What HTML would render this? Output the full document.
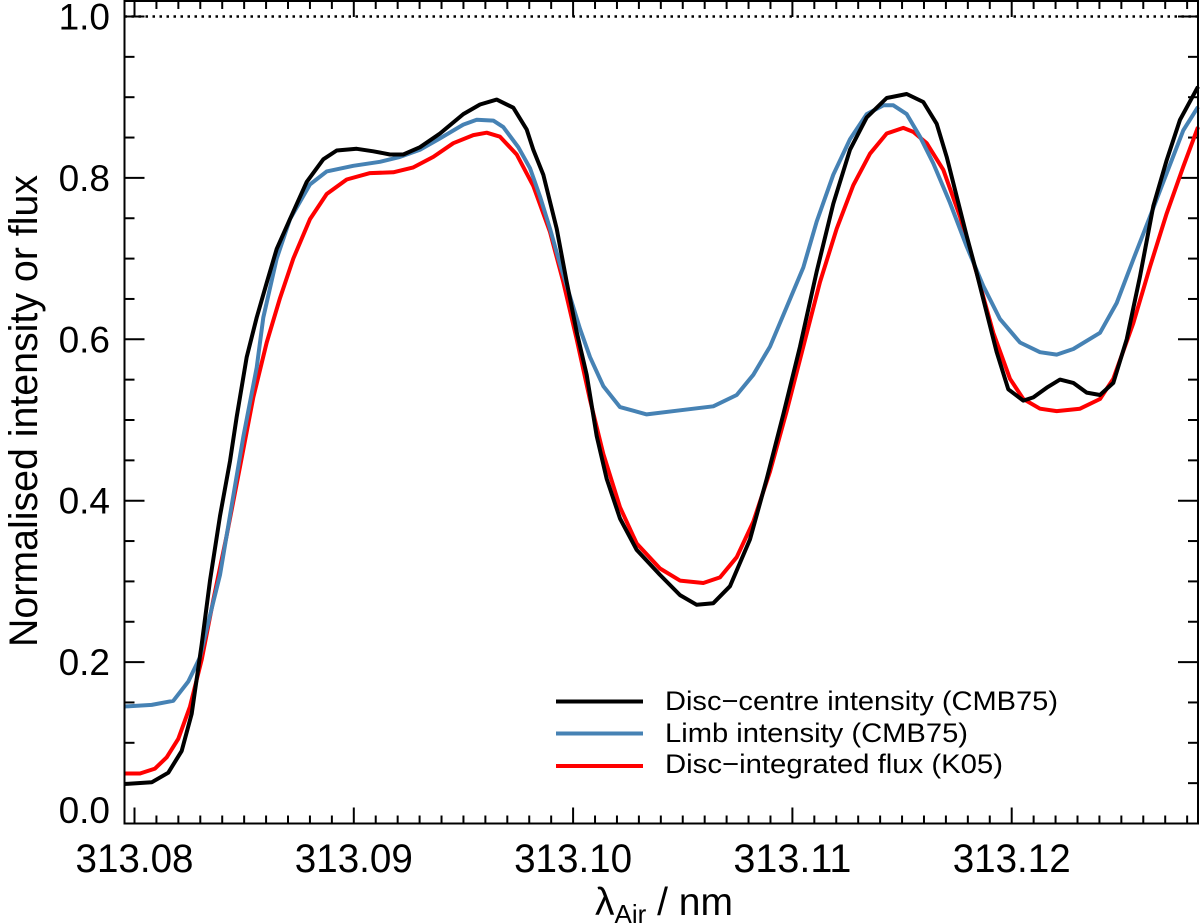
<!DOCTYPE html>
<html><head><meta charset="utf-8"><title>Normalised intensity chart</title>
<style>
html,body{margin:0;padding:0;background:#fff;}
svg{display:block;font-family:"Liberation Sans",Arial,sans-serif;}
</style></head>
<body>
<svg id="chart" width="1200" height="924" viewBox="0 0 1200 924" xmlns="http://www.w3.org/2000/svg">
<g id="ticks"></g>
<g id="series"></g>
<rect x="124.5" y="1" width="1073.5" height="822.5" fill="none" stroke="#000" stroke-width="2"/>
<g id="labels"></g>
<text transform="translate(37,411) rotate(-90)" text-anchor="middle" font-size="40" textLength="472" lengthAdjust="spacingAndGlyphs">Normalised intensity or flux</text>
<text x="595" y="915" font-size="39">λ<tspan font-size="26" dy="8">Air</tspan><tspan dy="-8"> / nm</tspan></text>
<g>
  <line x1="556" y1="701.5" x2="643" y2="701.5" stroke="#000" stroke-width="4"/>
  <text x="665" y="710" font-size="27" textLength="393" lengthAdjust="spacingAndGlyphs">Disc−centre intensity (CMB75)</text>
  <line x1="556" y1="733.5" x2="643" y2="733.5" stroke="#4682B4" stroke-width="4"/>
  <text x="665" y="742" font-size="27" textLength="303" lengthAdjust="spacingAndGlyphs">Limb intensity (CMB75)</text>
  <line x1="556" y1="766" x2="643" y2="766" stroke="#FF0000" stroke-width="4"/>
  <text x="665" y="773" font-size="27" textLength="338" lengthAdjust="spacingAndGlyphs">Disc−integrated flux (K05)</text>
</g>
</svg>
<script>
// wavelength offsets in pm relative to 313.08 nm
const WL0 = 313.08;
const dwlBlack = [-0.479,0.784,1.541,2.152,2.608,3.064,3.443,3.899,4.355,4.660,5.116,5.572,6.028,6.484,7.091,7.852,8.609,9.220,10.132,10.889,11.651,12.257,13.019,13.930,14.993,15.755,16.516,17.273,17.884,18.185,18.641,19.252,19.708,20.164,20.620,21.076,21.532,22.139,22.900,23.963,24.875,25.636,26.393,27.155,28.067,28.828,29.585,30.347,31.108,31.865,32.627,33.388,34.300,35.212,35.969,36.580,37.036,37.492,37.948,38.404,38.860,39.316,39.845,40.529,40.985,41.596,42.203,42.809,43.420,44.027,44.633,45.244,45.850,46.456,47.067,47.674,48.508];
const valBlack = [0.049,0.051,0.063,0.090,0.136,0.222,0.301,0.381,0.449,0.504,0.578,0.627,0.670,0.712,0.749,0.795,0.823,0.834,0.836,0.833,0.829,0.829,0.838,0.855,0.879,0.891,0.897,0.887,0.860,0.835,0.804,0.737,0.671,0.609,0.556,0.480,0.427,0.378,0.339,0.308,0.283,0.271,0.273,0.294,0.352,0.427,0.507,0.591,0.684,0.768,0.835,0.875,0.899,0.904,0.894,0.867,0.826,0.777,0.728,0.682,0.633,0.584,0.538,0.524,0.528,0.540,0.550,0.546,0.534,0.531,0.546,0.600,0.678,0.765,0.822,0.872,0.913];
const dwlBlue = [-0.479,0.784,1.769,2.453,2.987,3.443,3.899,4.505,4.961,5.572,5.873,6.484,7.091,8.003,8.764,9.977,11.195,12.107,13.019,13.930,14.993,15.604,16.361,16.817,17.501,18.035,18.491,18.947,19.403,19.859,20.315,20.771,21.377,22.139,23.356,24.875,26.393,27.460,28.217,28.979,29.740,30.497,31.108,31.865,32.627,33.388,34.145,34.601,35.212,35.819,36.425,37.187,37.948,38.705,39.467,40.379,41.291,42.052,42.809,44.027,44.788,45.545,46.306,47.067,47.824,48.508];
const valBlue = [0.145,0.147,0.152,0.176,0.206,0.258,0.308,0.406,0.479,0.565,0.627,0.700,0.749,0.792,0.808,0.815,0.820,0.826,0.835,0.849,0.866,0.872,0.871,0.863,0.838,0.812,0.777,0.737,0.693,0.653,0.613,0.578,0.542,0.516,0.507,0.512,0.517,0.531,0.556,0.591,0.640,0.689,0.746,0.804,0.848,0.879,0.890,0.890,0.879,0.851,0.818,0.769,0.715,0.666,0.625,0.596,0.584,0.581,0.588,0.608,0.645,0.699,0.752,0.806,0.859,0.888];
const dwlRed = [-0.479,0.251,0.935,1.468,1.997,2.531,3.064,3.593,4.204,4.811,5.417,6.028,6.635,7.241,8.003,8.764,9.676,10.739,11.801,12.713,13.625,14.537,15.449,16.060,16.667,17.428,18.185,18.947,19.553,20.164,20.771,21.377,22.139,22.900,23.963,24.875,25.937,26.699,27.460,28.217,28.979,29.740,30.497,31.259,32.020,32.777,33.539,34.300,35.057,35.513,36.124,36.881,37.643,38.404,39.161,39.923,40.529,41.291,42.052,43.115,44.027,44.633,45.545,46.306,47.067,47.824,48.508];
const valRed = [0.062,0.062,0.068,0.082,0.105,0.145,0.203,0.277,0.357,0.442,0.528,0.596,0.651,0.700,0.749,0.780,0.798,0.806,0.807,0.813,0.826,0.843,0.853,0.856,0.851,0.829,0.790,0.733,0.671,0.600,0.525,0.458,0.392,0.347,0.316,0.301,0.298,0.305,0.330,0.374,0.436,0.511,0.591,0.671,0.737,0.791,0.830,0.855,0.862,0.857,0.843,0.810,0.752,0.682,0.608,0.551,0.526,0.514,0.511,0.514,0.526,0.551,0.620,0.690,0.756,0.814,0.863];
const xTickLabels = ["313.08","313.09","313.10","313.11","313.12"];
const yTickLabels = ["0.0","0.2","0.4","0.6","0.8","1.0"];

const NS = "http://www.w3.org/2000/svg";
const X0 = 134.5, XS = 21930, LEFT = 124.5, RIGHT = 1198, TOP = 1, BOTTOM = 823.5;
function xScale(wl){ return X0 + (wl - WL0) * XS; }
function yScale(v){ return 823.5 - 807 * v; }
function mk(tag, attrs, parent){
  const e = document.createElementNS(NS, tag);
  for (const k in attrs) e.setAttribute(k, attrs[k]);
  parent.appendChild(e); return e;
}
const ticks = document.getElementById('ticks');
const labels = document.getElementById('labels');
const series = document.getElementById('series');

const ref = mk('line', {x1:LEFT, x2:RIGHT, y1:yScale(1), y2:yScale(1), stroke:'#000','stroke-width':2.5,'stroke-dasharray':'2.5 4.5'}, series);



for (let i = -1; i <= 49; i++) {
  const x = xScale(WL0 + i / 1000);
  if (x < LEFT + 1 || x > RIGHT - 1) continue;
  const len = (i % 10 === 0) ? 16 : 8;
  const tb = mk('line', {x1:x, x2:x, y1:BOTTOM, y2:BOTTOM - len, stroke:'#000','stroke-width':2}, ticks);
  
  
  const tt = mk('line', {x1:x, x2:x, y1:TOP, y2:TOP + len, stroke:'#000','stroke-width':2}, ticks);
  
  
}
xTickLabels.forEach(function(s){
  const t = mk('text', {x:xScale(parseFloat(s)), y:872, 'text-anchor':'middle','font-size':40, textLength:118, lengthAdjust:'spacingAndGlyphs'}, labels);
  t.textContent = s;
  
  
});
for (let i = 0; i <= 20; i++) {
  const y = yScale(i * 0.05);
  if (y < TOP + 1 || y > BOTTOM - 1) continue;
  const len = (i % 4 === 0) ? 20 : 10;
  const tl = mk('line', {x1:LEFT, x2:LEFT + len, y1:y, y2:y, stroke:'#000','stroke-width':2}, ticks);
  
  
  const tr = mk('line', {x1:RIGHT, x2:RIGHT - len, y1:y, y2:y, stroke:'#000','stroke-width':2}, ticks);
  
  
}
yTickLabels.forEach(function(s){
  const y = Math.min(yScale(parseFloat(s)), 810);
  const t = mk('text', {x:110, y:y + 13, 'text-anchor':'end','font-size':37}, labels);
  t.textContent = s;
  
  
});

function drawSeries(dwl, vals, color, name){
  let d = '';
  for (let i = 0; i < dwl.length; i++) {
    let x = xScale(WL0 + dwl[i] / 1000);
    x = Math.max(LEFT, Math.min(RIGHT, x));
    d += (i ? 'L' : 'M') + x.toFixed(1) + ',' + yScale(vals[i]).toFixed(1);
  }
  const p = mk('path', {d:d, fill:'none', stroke:color, 'stroke-width':4, 'stroke-linejoin':'round'}, series);
  
  
}
drawSeries(dwlRed, valRed, '#FF0000', 'disc-integrated-flux-line');
drawSeries(dwlBlue, valBlue, '#4682B4', 'limb-intensity-line');
drawSeries(dwlBlack, valBlack, '#000000', 'disc-centre-intensity-line');
</script>
</body></html>
